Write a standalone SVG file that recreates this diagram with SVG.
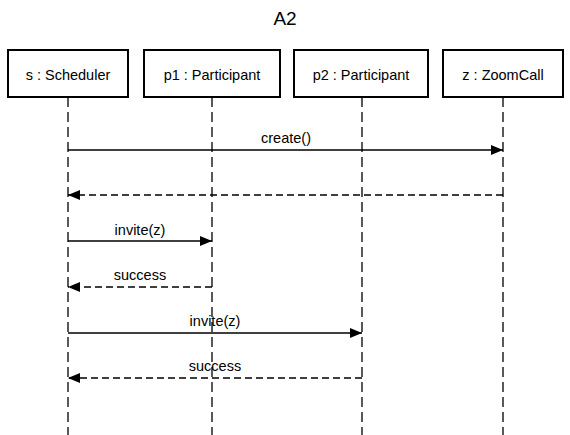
<svg xmlns="http://www.w3.org/2000/svg" width="570" height="435" viewBox="0 0 570 435">
<style>
text{font-family:"Liberation Sans",Arial,sans-serif;fill:#000}
.box{fill:#fff;stroke:#000;stroke-width:2}
.life{stroke:#000;stroke-width:1.3;stroke-dasharray:10 5;fill:none}
.msg{stroke:#000;stroke-width:1.3;fill:none}
.ret{stroke:#000;stroke-width:1.3;fill:none;stroke-dasharray:7 4}
.lbl{font-size:14.5px;text-anchor:middle}
.name{font-size:14.5px;text-anchor:middle}
</style>
<defs>
<marker id="ah" viewBox="0 0 12 10" refX="12" refY="5" markerWidth="12" markerHeight="10" markerUnits="userSpaceOnUse" orient="auto">
<path d="M0,0 L12,5 L0,10 Z" fill="#000"/>
</marker>
</defs>
<text x="285" y="25" font-size="19" text-anchor="middle">A2</text>
<g id="s">
<rect class="box" x="8" y="50" width="120" height="47"/>
<text class="name" x="68" y="80">s : Scheduler</text>
<line class="life" x1="68" y1="97" x2="68" y2="435"/>
</g>
<g id="p1">
<rect class="box" x="144" y="50" width="136" height="47"/>
<text class="name" x="212" y="80">p1 : Participant</text>
<line class="life" x1="212" y1="97" x2="212" y2="435"/>
</g>
<g id="p2">
<rect class="box" x="294" y="50" width="134" height="47"/>
<text class="name" x="361" y="80">p2 : Participant</text>
<line class="life" x1="362" y1="97" x2="362" y2="435"/>
</g>
<g id="z">
<rect class="box" x="443" y="50" width="120" height="47"/>
<text class="name" x="503" y="80">z : ZoomCall</text>
<line class="life" x1="503" y1="97" x2="503" y2="435"/>
</g>
<g id="connectors">
<line class="msg" x1="68" y1="150" x2="503" y2="150" marker-end="url(#ah)"/>
<text class="lbl" x="286" y="143">create()</text>
<line class="ret" x1="503" y1="195" x2="68" y2="195" marker-end="url(#ah)"/>
<line class="msg" x1="68" y1="241" x2="212" y2="241" marker-end="url(#ah)"/>
<text class="lbl" x="140" y="235">invite(z)</text>
<line class="ret" x1="212" y1="287" x2="68" y2="287" marker-end="url(#ah)"/>
<text class="lbl" x="140" y="280">success</text>
<line class="msg" x1="68" y1="333" x2="362" y2="333" marker-end="url(#ah)"/>
<text class="lbl" x="215" y="326">invite(z)</text>
<line class="ret" x1="362" y1="378" x2="68" y2="378" marker-end="url(#ah)"/>
<text class="lbl" x="215" y="371">success</text>
</g>
</svg>
